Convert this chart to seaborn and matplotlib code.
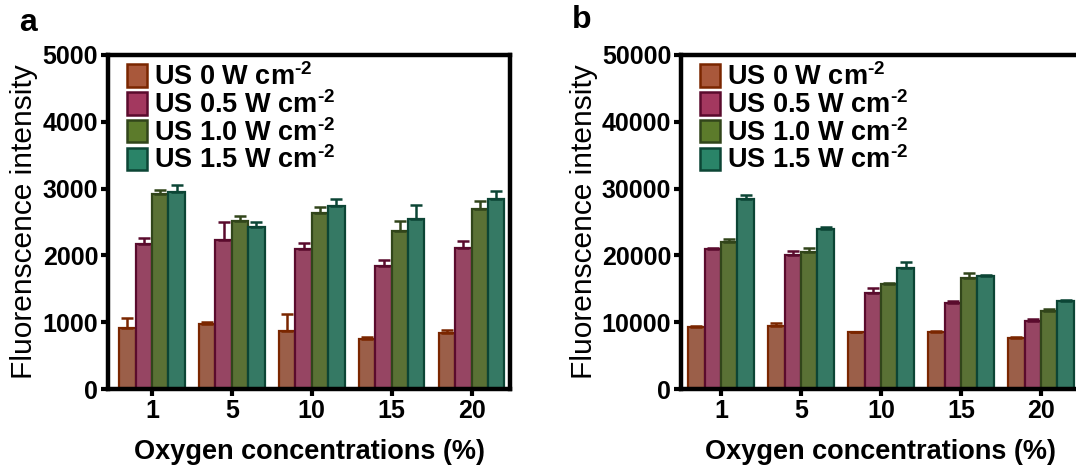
import numpy as np
import pandas as pd
import matplotlib
matplotlib.use("Agg")
import matplotlib.pyplot as plt
from matplotlib.patches import Patch
import seaborn as sns

# ---------------- data ----------------
oxygen = ["1", "5", "10", "15", "20"]
powers = ["US 0 W cm$^{\\text{-2}}$", "US 0.5 W cm$^{\\text{-2}}$",
          "US 1.0 W cm$^{\\text{-2}}$", "US 1.5 W cm$^{\\text{-2}}$"]

# panel a means / upper errors
a_us0 = [910, 970, 870, 750, 840]
a_us05 = [2170, 2230, 2100, 1840, 2110]
a_us10 = [2920, 2510, 2630, 2360, 2690]
a_us15 = [2950, 2420, 2740, 2550, 2840]
a_err0 = [150, 40, 260, 30, 50]
a_err05 = [90, 270, 90, 90, 110]
a_err10 = [60, 80, 100, 150, 120]
a_err15 = [110, 80, 110, 210, 120]

# panel b means / upper errors
b_us0 = [9350, 9450, 8460, 8460, 7610]
b_us05 = [20950, 20050, 14330, 12940, 10250]
b_us10 = [21940, 20550, 15720, 16570, 11740]
b_us15 = [28460, 23880, 18160, 16920, 13180]
b_err0 = [150, 500, 100, 250, 150]
b_err05 = [100, 650, 750, 200, 200]
b_err10 = [500, 550, 200, 850, 200]
b_err15 = [550, 300, 900, 150, 200]

y_ticks_a = [0, 1000, 2000, 3000, 4000, 5000]
y_ticks_b = [0, 10000, 20000, 30000, 40000, 50000]

fill_colors = ["#a9583b", "#a3385f", "#5c7b2b", "#2a8468"]
edge_colors = ["#7a2600", "#5a0b2d", "#31451a", "#0c4535"]

# ---------------- style ----------------
sns.set_style("ticks")
plt.rcParams["font.family"] = ["Liberation Sans", "DejaVu Sans"]
plt.rcParams["mathtext.fontset"] = "custom"
plt.rcParams["mathtext.rm"] = "Liberation Sans:bold"
plt.rcParams["mathtext.it"] = "Liberation Sans:bold"
plt.rcParams["mathtext.bf"] = "Liberation Sans:bold"
plt.rcParams["mathtext.default"] = "bf"
for key in ["text.color", "axes.labelcolor", "xtick.color", "ytick.color",
            "axes.edgecolor"]:
    plt.rcParams[key] = "black"


def make_df(means, errs):
    rows = []
    for p, m, e in zip(powers, means, errs):
        for o, v, ev in zip(oxygen, m, e):
            rows.append({"oxygen": o, "power": p, "value": v, "err": ev})
    return pd.DataFrame(rows)


df_a = make_df([a_us0, a_us05, a_us10, a_us15], [a_err0, a_err05, a_err10, a_err15])
df_b = make_df([b_us0, b_us05, b_us10, b_us15], [b_err0, b_err05, b_err10, b_err15])

fig = plt.figure(figsize=(10.76, 4.73), dpi=100)
W, H = 1076, 473
ax_a = fig.add_axes([108 / W, 1 - 389 / H, (510 - 108) / W, (389 - 55) / H])
ax_b = fig.add_axes([681 / W, 1 - 389 / H, (1081 - 681) / W, (389 - 55) / H])


def draw(ax, df, yticks, xlim, right_spine=True):
    sns.barplot(data=df, x="oxygen", y="value", hue="power", order=oxygen,
                hue_order=powers, palette=fill_colors, errorbar=None,
                width=0.82, gap=0, ax=ax, legend=False, zorder=2)
    bar_containers = list(ax.containers)
    for k, cont in enumerate(bar_containers):
        sub = df[df["power"] == powers[k]].set_index("oxygen").loc[oxygen]
        for bar, ev in zip(cont, sub["err"].values):
            bar.set_edgecolor(edge_colors[k])
            bar.set_linewidth(1.6)
            xc = bar.get_x() + bar.get_width() / 2
            h = bar.get_height()
            ax.errorbar([xc], [h], yerr=[[0], [ev]], fmt="none",
                        ecolor=edge_colors[k], elinewidth=1.8, capsize=4.0,
                        capthick=1.8, zorder=3)
    ax.set_ylim(yticks[0], yticks[-1])
    ax.set_yticks(yticks)
    ax.set_xlim(*xlim)
    for s in ["left", "bottom", "top", "right"]:
        ax.spines[s].set_linewidth(3.2)
        ax.spines[s].set_color("black")
        ax.spines[s].set_visible(True)
    if not right_spine:
        ax.spines["right"].set_visible(False)
    ax.tick_params(axis="both", direction="out", length=5, width=3,
                   labelsize=18, pad=2, colors="black")
    for lab in ax.get_xticklabels() + ax.get_yticklabels():
        lab.set_fontweight("bold")
    ax.set_xlabel("Oxygen concentrations (%)", fontsize=19.5,
                  fontweight="bold", labelpad=12)
    ax.set_ylabel("Fluorenscence intensity", fontsize=21.5,
                  fontweight="normal", labelpad=3)
    handles = [Patch(facecolor=f, edgecolor=e, linewidth=1.8)
               for f, e in zip(fill_colors, edge_colors)]
    ax.legend(handles, powers, loc="upper left", frameon=False,
              bbox_to_anchor=(0.018, 1.012),
              prop={"size": 19.5, "weight": "bold"},
              handlelength=0.72, handleheight=0.9, handletextpad=0.25,
              labelspacing=0.0, borderaxespad=0.25, borderpad=0.2)


draw(ax_a, df_a, y_ticks_a, (-0.55, 4.48))
draw(ax_b, df_b, y_ticks_b, (-0.5, 4.5), right_spine=False)

fig.text(19 / W, 1 - 23 / H, "a", fontsize=23, fontweight="bold",
         ha="left", va="center")
fig.text(572 / W, 1 - 20 / H, "b", fontsize=23, fontweight="bold",
         ha="left", va="center")

fig.savefig("out.png", dpi=100)
